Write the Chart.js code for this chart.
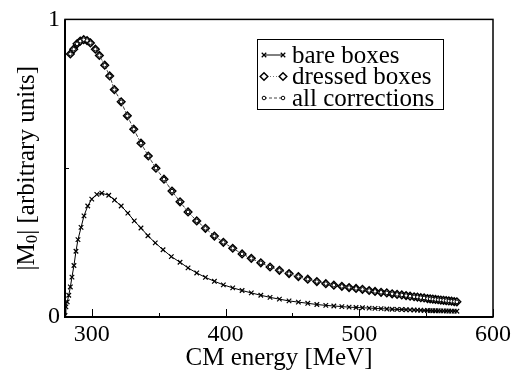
<!DOCTYPE html>
<html><head><meta charset="utf-8">
<script src="https://cdn.jsdelivr.net/npm/chart.js@4"></script>
<style>html,body{margin:0;padding:0;background:#fff;}canvas{display:block;}</style>
</head><body>
<canvas id="c" width="514" height="374"></canvas>
<script>
const xTicks = [300, 400, 500, 600];
const xMinorTicks = [350, 450, 550];
const yTicks = [0, 0.5, 1];
const yTickLabels = {0: '0', 1: '1'};
const seriesNames = ['bare boxes', 'dressed boxes', 'all corrections'];
const xTitle = 'CM energy [MeV]';

const bareEnergy = [280, 280.7, 281.7, 282.8, 284, 285.2, 286.7, 288.2, 289.7, 292, 294.2, 297, 300, 303.8, 307.5, 312.7, 317, 322, 327, 331.8, 336.8, 342, 347.5, 353.3, 359.5, 366, 372, 378.5, 385, 391.7, 398.4, 405.4, 412.4, 419.3, 426.4, 433.3, 440.3, 447.5, 454.5, 461.5, 468.3, 475, 481, 487, 492.4, 497.6, 502.4, 507.4, 511.8, 516.3, 520.6, 524.6, 528.3, 531.8, 535, 538, 541, 543.5, 546, 548.5, 551, 553, 555, 557, 559, 561, 563, 565, 567, 569, 571, 573];
const bareM0 = [0.005, 0.034, 0.051, 0.073, 0.101, 0.134, 0.173, 0.221, 0.26, 0.301, 0.34, 0.373, 0.396, 0.412, 0.416, 0.409, 0.393, 0.373, 0.349, 0.323, 0.299, 0.273, 0.249, 0.226, 0.203, 0.184, 0.165, 0.148, 0.133, 0.12, 0.108, 0.098, 0.089, 0.081, 0.073, 0.066, 0.06, 0.054, 0.05, 0.046, 0.042, 0.039, 0.037, 0.035, 0.033, 0.032, 0.031, 0.030, 0.029, 0.028, 0.027, 0.026, 0.0255, 0.025, 0.0245, 0.024, 0.0235, 0.023, 0.0225, 0.022, 0.0218, 0.0215, 0.0212, 0.021, 0.0208, 0.0206, 0.0204, 0.0202, 0.02, 0.0198, 0.0196, 0.0195];

const dressedEnergy = [284, 286.5, 289, 291.4, 294, 296.5, 299, 302.7, 305.7, 309.7, 313.4, 316.9, 322, 326.6, 331.4, 336.8, 342.3, 348, 354, 360, 366, 372, 378.5, 385, 391.7, 398.4, 405.4, 412.4, 419.3, 426.4, 433.3, 440.3, 447.5, 454.5, 461.5, 468.3, 475, 481, 487, 492.4, 497.6, 502.4, 507.4, 511.8, 516.3, 520.6, 524.6, 528.3, 531.8, 535, 538, 541, 543.5, 546, 548.5, 551, 553, 555, 557, 559, 561, 563, 565, 567, 569, 571, 573];
const dressedM0 = [0.884, 0.90, 0.918, 0.927, 0.932, 0.929, 0.921, 0.90, 0.879, 0.846, 0.81, 0.764, 0.723, 0.676, 0.631, 0.584, 0.541, 0.50, 0.463, 0.423, 0.387, 0.353, 0.323, 0.298, 0.272, 0.251, 0.231, 0.212, 0.197, 0.182, 0.168, 0.157, 0.146, 0.136, 0.127, 0.119, 0.112, 0.107, 0.103, 0.099, 0.096, 0.093, 0.089, 0.086, 0.083, 0.081, 0.078, 0.076, 0.074, 0.072, 0.070, 0.068, 0.067, 0.065, 0.064, 0.062, 0.061, 0.060, 0.059, 0.058, 0.057, 0.056, 0.055, 0.054, 0.053, 0.052, 0.051];

const allEnergy = [284, 286.5, 289, 291.4, 294, 296.5, 299, 302.7, 305.7, 309.7, 313.4, 316.9, 322, 326.6, 331.4, 336.8, 342.3, 348, 354, 360, 366, 372, 378.5, 385, 391.7, 398.4, 405.4, 412.4, 419.3, 426.4, 433.3, 440.3, 447.5, 454.5, 461.5, 468.3, 475, 481, 487, 492.4, 497.6, 502.4, 507.4, 511.8, 516.3, 520.6, 524.6, 528.3, 531.8, 535, 538, 541, 543.5, 546, 548.5, 551, 553, 555, 557, 559, 561, 563, 565, 567, 569, 571, 573];
const allM0 = [0.884, 0.90, 0.918, 0.927, 0.932, 0.929, 0.921, 0.90, 0.879, 0.846, 0.81, 0.764, 0.723, 0.676, 0.631, 0.584, 0.541, 0.50, 0.463, 0.423, 0.387, 0.353, 0.323, 0.298, 0.272, 0.251, 0.231, 0.212, 0.197, 0.182, 0.168, 0.157, 0.146, 0.136, 0.127, 0.119, 0.112, 0.107, 0.103, 0.099, 0.096, 0.093, 0.089, 0.086, 0.083, 0.081, 0.078, 0.076, 0.074, 0.072, 0.070, 0.068, 0.067, 0.065, 0.064, 0.062, 0.061, 0.060, 0.059, 0.058, 0.057, 0.056, 0.055, 0.054, 0.053, 0.052, 0.051];

const FONT = '"Liberation Serif","Times New Roman",serif';
const pts = (xs, ys) => xs.map((x, i) => ({x: x, y: ys[i]}));

const framePlugin = {
  id: 'frameLegend',
  afterDraw(chart) {
    const ctx = chart.ctx;
    const a = chart.chartArea;
    const xs = chart.scales.x, ys = chart.scales.y;
    ctx.save();
    ctx.strokeStyle = '#000';
    ctx.lineWidth = 1.5;
    ctx.strokeRect(a.left, a.top, a.right - a.left, a.bottom - a.top);
    ctx.lineWidth = 2;
    ctx.beginPath();
    ctx.moveTo(a.left, a.top); ctx.lineTo(a.left, a.bottom); ctx.lineTo(a.right, a.bottom);
    ctx.stroke();
    ctx.lineWidth = 1;
    ctx.beginPath();
    xTicks.forEach(v => { const p = Math.round(xs.getPixelForValue(v)) + 0.5; ctx.moveTo(p, a.bottom); ctx.lineTo(p, a.bottom - 8); });
    xMinorTicks.forEach(v => { const p = Math.round(xs.getPixelForValue(v)) + 0.5; ctx.moveTo(p, a.bottom); ctx.lineTo(p, a.bottom - 4); });
    yTicks.forEach(v => { if (v > 0 && v < 1) { const p = Math.round(ys.getPixelForValue(v)) + 0.5; ctx.moveTo(a.left, p); ctx.lineTo(a.left + 4, p); } });
    ctx.stroke();
    ctx.fillStyle = '#000';
    ctx.translate(27, (a.top + a.bottom) / 2);
    ctx.rotate(-Math.PI / 2);
    ctx.textBaseline = 'middle';
    const big = '25px ' + FONT, small = '17px ' + FONT;
    const parts = [['|M', big, 0], ['0', small, 6], ['| [arbitrary units]', big, 0]];
    let total = 0;
    parts.forEach(p => { ctx.font = p[1]; total += ctx.measureText(p[0]).width; });
    let x = -total / 2;
    parts.forEach(p => { ctx.font = p[1]; ctx.fillText(p[0], x, p[2]); x += ctx.measureText(p[0]).width; });
    ctx.restore();

    ctx.save();
    const bx = 257, by = 39, bw = 186, bh = 70;
    ctx.fillStyle = '#fff';
    ctx.fillRect(bx, by, bw, bh);
    ctx.strokeStyle = '#000';
    ctx.lineWidth = 1;
    ctx.strokeRect(bx + 0.5, by + 0.5, bw, bh);
    chart.data.datasets.forEach((ds, i) => {
      const ry = 55 + i * 21.5;
      const x1 = 264, x2 = 283;
      ctx.strokeStyle = ds.borderColor;
      ctx.lineWidth = ds.borderWidth;
      ctx.setLineDash(ds.borderDash || []);
      ctx.beginPath(); ctx.moveTo(x1, ry); ctx.lineTo(x2, ry); ctx.stroke();
      ctx.setLineDash([]);
      ctx.strokeStyle = ds.pointBorderColor;
      ctx.fillStyle = ds.pointBackgroundColor || '#fff';
      ctx.lineWidth = ds.pointBorderWidth;
      [x1, x2].forEach(px => Chart.helpers.drawPoint(ctx, {pointStyle: ds.pointStyle, radius: ds.pointRadius, borderWidth: ds.pointBorderWidth, rotation: 0}, px, ry));
      ctx.fillStyle = '#000';
      ctx.font = '25px ' + FONT;
      ctx.textBaseline = 'middle';
      ctx.fillText(ds.label, 292, ry + 1);
    });
    ctx.restore();
  }
};

new Chart(document.getElementById('c'), {
  type: 'line',
  data: {
    datasets: [
      {label: seriesNames[0], data: pts(bareEnergy, bareM0), borderColor: '#000', borderWidth: 1, pointStyle: 'crossRot', pointRadius: 3.2, pointBorderWidth: 1.2, pointBorderColor: '#000', pointBackgroundColor: '#000', fill: false, tension: 0, order: 2},
      {label: seriesNames[1], data: pts(dressedEnergy, dressedM0), borderColor: '#777', borderWidth: 1, borderDash: [1, 2], pointStyle: 'rectRot', pointRadius: 3.8, pointBorderWidth: 1.5, pointBorderColor: '#000', pointBackgroundColor: '#fff', fill: false, tension: 0, order: 1},
      {label: seriesNames[2], data: pts(allEnergy, allM0), borderColor: '#444', borderWidth: 1, borderDash: [3, 2], pointStyle: 'circle', pointRadius: 1.8, pointBorderWidth: 1, pointBorderColor: '#000', pointBackgroundColor: '#fff', fill: false, tension: 0, order: 0}
    ]
  },
  options: {
    responsive: false,
    animation: false,
    devicePixelRatio: 1,
    layout: {padding: {top: 17, right: 21, left: 0, bottom: 0}},
    plugins: {legend: {display: false}, tooltip: {enabled: false}},
    scales: {
      x: {
        type: 'linear', min: 280, max: 600,
        afterBuildTicks: s => { s.ticks = xTicks.map(v => ({value: v})); },
        afterFit: s => { s.height = 57; },
        grid: {display: false, drawTicks: false},
        border: {display: false},
        ticks: {font: {family: FONT, size: 24}, color: '#000', padding: 3, maxRotation: 0, autoSkip: false, callback: v => String(v)},
        title: {display: true, text: xTitle, font: {family: FONT, size: 25}, color: '#000', padding: {top: 0, bottom: 1}}
      },
      y: {
        type: 'linear', min: 0, max: 1,
        afterBuildTicks: s => { s.ticks = yTicks.map(v => ({value: v})); },
        afterFit: s => { s.width = 65; },
        grid: {display: false, drawTicks: false},
        border: {display: false},
        ticks: {font: {family: FONT, size: 24}, color: '#000', padding: 5, autoSkip: false, callback: v => (yTickLabels[v] !== undefined ? yTickLabels[v] : '')}
      }
    }
  },
  plugins: [framePlugin]
});
</script>
</body></html>
